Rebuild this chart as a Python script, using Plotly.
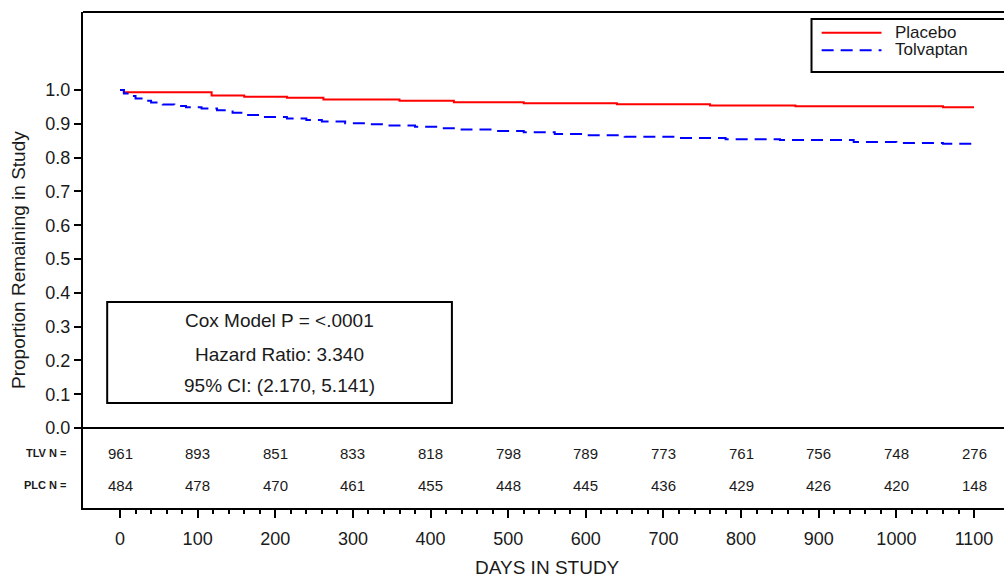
import plotly.graph_objects as go

# Kaplan-Meier step curves: (day, proportion remaining) at each step
placebo_days = [0, 5, 118, 160, 215, 262, 360, 430, 520, 640, 760, 870, 1060, 1100]
placebo_surv = [1.0, 0.993, 0.984, 0.980, 0.977, 0.972, 0.968, 0.964, 0.961, 0.958, 0.954, 0.952, 0.949, 0.949]

tolvaptan_days = [0, 5, 12, 20, 30, 40, 55, 70, 85, 105, 125, 145, 165, 185, 215, 240, 260,
                  290, 320, 345, 380, 410, 440, 480, 520, 560, 600, 650, 720, 780, 850, 945,
                  1000, 1060, 1100]
tolvaptan_surv = [1.0, 0.990, 0.982, 0.975, 0.968, 0.963, 0.957, 0.953, 0.949, 0.945, 0.940,
                  0.933, 0.926, 0.920, 0.916, 0.911, 0.907, 0.902, 0.899, 0.895, 0.891, 0.887,
                  0.883, 0.879, 0.875, 0.870, 0.866, 0.862, 0.858, 0.854, 0.852, 0.846, 0.843,
                  0.841, 0.840]

# Numbers at risk
risk_days = [0, 100, 200, 300, 400, 500, 600, 700, 800, 900, 1000, 1100]
tlv_at_risk = [961, 893, 851, 833, 818, 798, 789, 773, 761, 756, 748, 276]
plc_at_risk = [484, 478, 470, 461, 455, 448, 445, 436, 429, 426, 420, 148]

x_ticks = [0, 100, 200, 300, 400, 500, 600, 700, 800, 900, 1000, 1100]
x_minor = [d for d in range(0, 1101, 20) if d % 100 != 0]
y_ticks = [0.0, 0.1, 0.2, 0.3, 0.4, 0.5, 0.6, 0.7, 0.8, 0.9, 1.0]
y_labels = ["0.0", "0.1", "0.2", "0.3", "0.4", "0.5", "0.6", "0.7", "0.8", "0.9", "1.0"]

stats_lines = ["Cox Model P = <.0001", "Hazard Ratio: 3.340", "95% CI: (2.170, 5.141)"]

FONT = "Liberation Sans, Arial, sans-serif"
INK = "#1a1a1a"
RED = "#ff0000"
BLUE = "#0000ff"
BLUE_DASH = "12px,7px"

fig = go.Figure()
fig.add_trace(go.Scatter(
    x=placebo_days, y=placebo_surv, mode="lines", name="Placebo",
    line=dict(color=RED, width=2, shape="hv"), showlegend=False,
))
fig.add_trace(go.Scatter(
    x=tolvaptan_days, y=tolvaptan_surv, mode="lines", name="Tolvaptan",
    line=dict(color=BLUE, width=2, shape="hv", dash=BLUE_DASH), showlegend=False,
))

# Risk table rows
for d, n in zip(risk_days, tlv_at_risk):
    fig.add_annotation(x=d, y=-0.074, text=str(n), showarrow=False,
                       font=dict(size=15, color=INK, family=FONT))
for d, n in zip(risk_days, plc_at_risk):
    fig.add_annotation(x=d, y=-0.169, text=str(n), showarrow=False,
                       font=dict(size=15, color=INK, family=FONT))
for label, yv in (("<b>TLV N =</b>", -0.074), ("<b>PLC N =</b>", -0.169)):
    fig.add_annotation(x=-0.016, xref="paper", y=yv, text=label, showarrow=False,
                       xanchor="right", font=dict(size=11, color=INK, family=FONT))

# Statistics box
fig.add_shape(type="rect", x0=-16.5, x1=427.5, y0=0.074, y1=0.373,
              line=dict(color="black", width=2), fillcolor="white", layer="below")
for txt, yv in zip(stats_lines, [0.319, 0.216, 0.127]):
    fig.add_annotation(x=205, y=yv, text=txt, showarrow=False,
                       font=dict(size=19, color=INK, family=FONT))

# Legend frame with line samples
fig.add_shape(type="rect", xref="paper", yref="paper", x0=0.791, x1=1.01, y0=0.879, y1=0.986,
              line=dict(color="black", width=2), fillcolor="white")
fig.add_shape(type="line", xref="paper", yref="paper", x0=0.802, x1=0.867, y0=0.958, y1=0.958,
              line=dict(color=RED, width=2))
fig.add_shape(type="line", xref="paper", yref="paper", x0=0.802, x1=0.867, y0=0.923, y1=0.923,
              line=dict(color=BLUE, width=2, dash=BLUE_DASH))
for name, yv in (("Placebo", 0.9585), ("Tolvaptan", 0.9235)):
    fig.add_annotation(x=0.879, xref="paper", y=yv, yref="paper", text=name, showarrow=False,
                       xanchor="left", yanchor="middle",
                       font=dict(size=17, color=INK, family=FONT))

# Zero line separating curves from risk table, and top frame line
fig.add_shape(type="line", xref="paper", x0=0, x1=1, y0=0, y1=0,
              line=dict(color="black", width=2))
fig.add_shape(type="line", xref="paper", yref="paper", x0=0, x1=1, y0=1, y1=1,
              line=dict(color="black", width=2))

# Axis titles
fig.add_annotation(x=-0.0706, xref="paper", y=0.50, yref="paper",
                   text="Proportion Remaining in Study", textangle=-90, showarrow=False,
                   xanchor="center", yanchor="middle",
                   font=dict(size=19, color=INK, family=FONT))
fig.add_annotation(x=0.504, xref="paper", y=-0.119, yref="paper",
                   text="DAYS IN STUDY", showarrow=False,
                   xanchor="center", yanchor="middle",
                   font=dict(size=19, color=INK, family=FONT))

fig.update_layout(
    width=1004, height=577,
    margin=dict(l=83, r=0, t=12, b=69),
    paper_bgcolor="white", plot_bgcolor="white",
    font=dict(family=FONT, color=INK),
    showlegend=False,
    xaxis=dict(
        range=[-47.66, 1138.6], showgrid=False, zeroline=False,
        showline=True, linecolor="black", linewidth=2,
        tickmode="array", tickvals=x_ticks, ticktext=[str(v) for v in x_ticks],
        ticks="outside", ticklen=8, tickwidth=2, tickcolor="black",
        ticklabelstandoff=5,
        tickfont=dict(size=18, color=INK, family=FONT),
        minor=dict(tickmode="array", tickvals=x_minor, ticks="outside",
                   ticklen=4, tickwidth=2, tickcolor="black", showgrid=False),
    ),
    yaxis=dict(
        range=[-0.2367, 1.2308], showgrid=False, zeroline=False,
        showline=True, linecolor="black", linewidth=2,
        tickmode="array", tickvals=y_ticks, ticktext=y_labels,
        ticks="outside", ticklen=7, tickwidth=2, tickcolor="black",
        tickfont=dict(size=18, color=INK, family=FONT),
    ),
)

fig.write_html("out.html")
